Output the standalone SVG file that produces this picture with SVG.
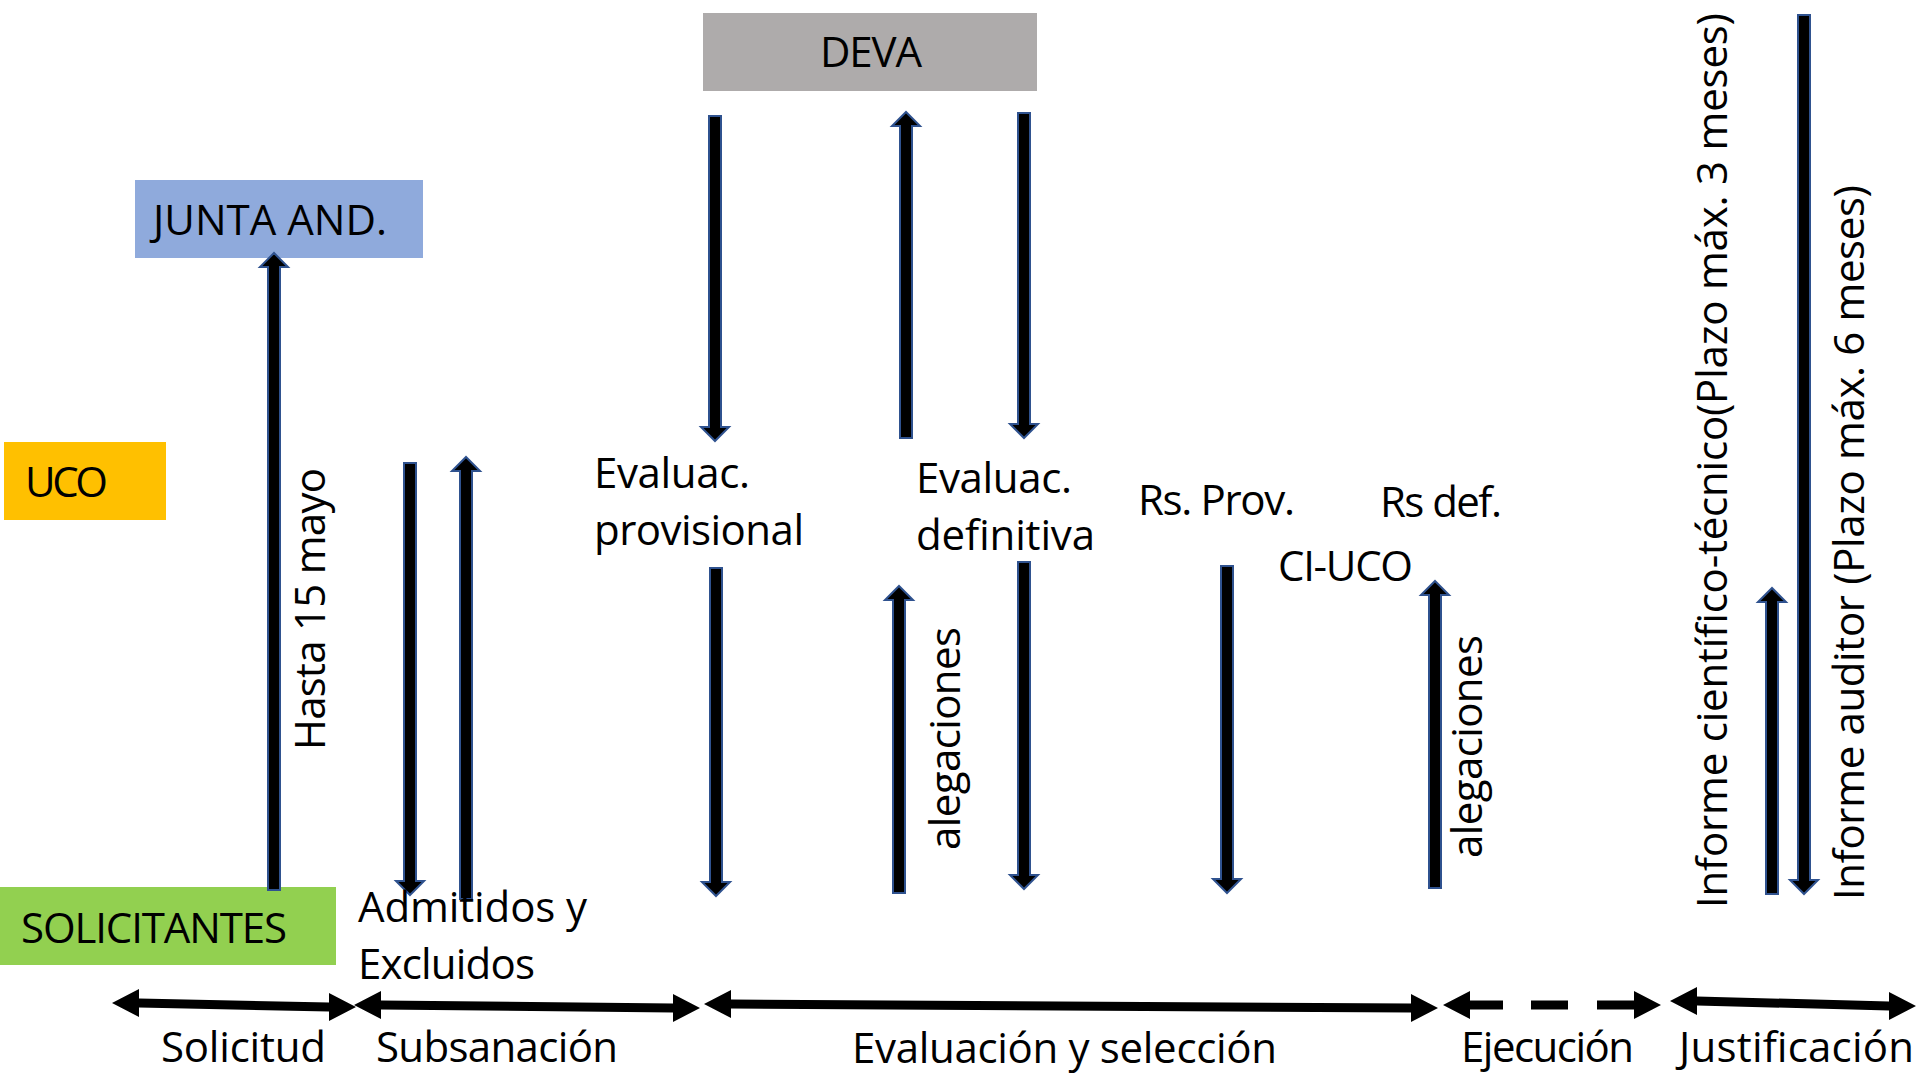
<svg xmlns="http://www.w3.org/2000/svg" width="1920" height="1074" viewBox="0 0 1920 1074">
<style>
text{font-family:"Open Sans","Noto Sans","Liberation Sans",sans-serif;font-size:42px;fill:#000}
.blk{fill:#000;stroke:#2F528F;stroke-width:2;stroke-linejoin:miter}
.tl{fill:#000;stroke:none}
</style>
<rect width="1920" height="1074" fill="#fff"/>
<g id="deva"><rect x="703" y="13" width="334" height="78" fill="#AEABAB"/><text x="820" y="67" textLength="102">DEVA</text></g>
<g id="junta"><rect x="135" y="180" width="288" height="78" fill="#8FAADC"/><text x="153" y="235" textLength="234">JUNTA AND.</text></g>
<g id="uco"><rect x="4" y="442" width="162" height="78" fill="#FFC000"/><text x="25" y="497" textLength="83">UCO</text></g>
<g id="solicitantes"><rect x="0" y="887" width="336" height="78" fill="#92D050"/><text x="21" y="943" textLength="266">SOLICITANTES</text></g>

<g id="connectors">
<!-- up arrows -->
<path class="blk" d="M268,890 V267 H260 L274,253 L288,267 H280 V890 Z"/>
<path class="blk" d="M460,899 V471 H452 L466,457 L480,471 H472 V899 Z"/>
<path class="blk" d="M900,438 V126 H892 L906,112 L920,126 H912 V438 Z"/>
<path class="blk" d="M893,893 V600 H885 L899,586 L913,600 H905 V893 Z"/>
<path class="blk" d="M1429,888 V595 H1421 L1435,581 L1449,595 H1441 V888 Z"/>
<path class="blk" d="M1766,894 V602 H1758 L1772,588 L1786,602 H1778 V894 Z"/>
<!-- down arrows -->
<path class="blk" d="M404,463 V881 H396 L410,895 L424,881 H416 V463 Z"/>
<path class="blk" d="M709,116 V427 H701 L715,441 L729,427 H721 V116 Z"/>
<path class="blk" d="M1018,113 V424 H1010 L1024,438 L1038,424 H1030 V113 Z"/>
<path class="blk" d="M710,568 V882 H702 L716,896 L730,882 H722 V568 Z"/>
<path class="blk" d="M1018,562 V875 H1010 L1024,889 L1038,875 H1030 V562 Z"/>
<path class="blk" d="M1221,566 V879 H1213 L1227,893 L1241,879 H1233 V566 Z"/>
<path class="blk" d="M1798,15 V880 H1790 L1804,894 L1818,880 H1810 V15 Z"/>
<!-- timeline -->
<polygon class="tl" points="112,1003 139,989 139,998.5 329,1002.5 329,993 356,1007 329,1021 329,1011.5 139,1007.5 139,1017"/>
<polygon class="tl" points="354,1005 381,991 381,1000.5 673,1003.5 673,994 700,1008 673,1022 673,1012.5 381,1009.5 381,1019"/>
<polygon class="tl" points="704,1004 731,990 731,999.5 1411,1003.5 1411,994 1438,1008 1411,1022 1411,1012.5 731,1008.5 731,1018"/>
<polygon class="tl" points="1443,1005 1470,991 1470,1000.5 1503,1000.5 1503,1009.5 1470,1009.5 1470,1019"/>
<rect class="tl" x="1531" y="1000.5" width="37" height="9"/>
<polygon class="tl" points="1661,1005 1634,991 1634,1000.5 1597,1000.5 1597,1009.5 1634,1009.5 1634,1019"/>
<polygon class="tl" points="1670,1001 1697,987 1697,996.5 1889,1001.5 1889,992 1916,1006 1889,1020 1889,1010.5 1697,1005.5 1697,1015"/>
</g>

<g id="labels">
<text transform="translate(325,750) rotate(-90)" textLength="282">Hasta 15 mayo</text>
<text x="358" y="922" textLength="229">Admitidos y</text>
<text x="358" y="979" textLength="177">Excluidos</text>
<text x="594" y="488" textLength="156">Evaluac.</text>
<text x="594" y="545" textLength="210">provisional</text>
<text x="916" y="493" textLength="156">Evaluac.</text>
<text x="916" y="550" textLength="179">definitiva</text>
<text transform="translate(960,850) rotate(-90)" textLength="223">alegaciones</text>
<text x="1138" y="515" textLength="157">Rs. Prov.</text>
<text x="1380" y="517" textLength="122">Rs def.</text>
<text x="1278" y="581" textLength="135">CI-UCO</text>
<text transform="translate(1482,858) rotate(-90)" textLength="223">alegaciones</text>
<text transform="translate(1727,908) rotate(-90)" textLength="895">Informe científico-técnico(Plazo máx. 3 meses)</text>
<text transform="translate(1864,900) rotate(-90)" textLength="715">Informe auditor (Plazo máx. 6 meses)</text>
<text x="161" y="1062" textLength="165">Solicitud</text>
<text x="376" y="1062" textLength="242">Subsanación</text>
<text x="852" y="1063" textLength="425">Evaluación y selección</text>
<text x="1461" y="1062" textLength="173">Ejecución</text>
<text x="1679" y="1062" textLength="235">Justificación</text>
</g>
</svg>
